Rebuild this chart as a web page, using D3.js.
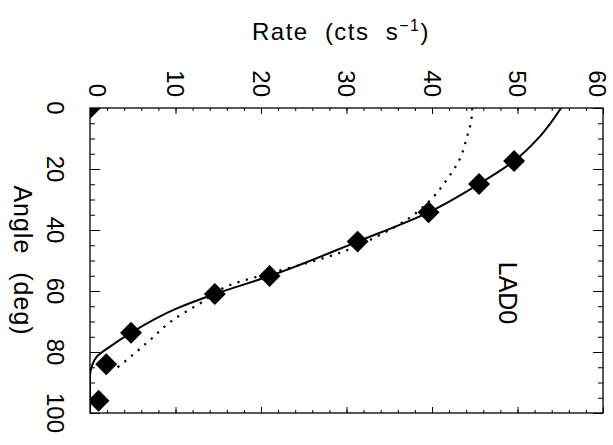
<!DOCTYPE html>
<html>
<head>
<meta charset="utf-8">
<script src="https://cdn.jsdelivr.net/npm/d3@7"></script>
<style>
  html, body { margin: 0; padding: 0; background: #fff; }
  svg text { font-family: "Liberation Sans", Arial, Helvetica, sans-serif; fill: #000; }
</style>
</head>
<body>
<svg id="chart" width="613" height="445"></svg>
<script>
// Measured count rates versus off-axis angle (LAD0)
const pointAngle = [0, 17.4, 24.9, 34.2, 43.8, 55.1, 61.0, 73.7, 84.0, 96.0];
const pointRate  = [0, 49.6, 45.5, 39.6, 31.3, 21.0, 14.6, 4.8, 1.9, 1.0];

// Fitted response (solid)
const fitAngle = [0, 9.4, 17.4, 24.9, 34.2, 43.8, 55.1, 61.0, 65.8, 73.7, 78.3, 81.5, 84.8, 88, 100];
const fitRate  = [55.1, 52.6, 49.6, 45.5, 39.6, 31.3, 21.0, 14.6, 10.1, 4.8, 2.3, 0.8, 0.2, 0, 0];

// Reference response (dotted)
const refAngle = [0, 4, 9.4, 17, 23.6, 30.2, 36.7, 42.2, 47.1, 50.9, 54.2, 57.5, 64, 69.5, 76.1, 82.6, 85.3];
const refRate  = [44.7, 44.6, 44.1, 43.2, 41.7, 39.8, 37.0, 33.5, 29.6, 25.3, 21.0, 16.9, 12.9, 9.7, 7.0, 4.3, 3.1];

// Axis ticks
const rateMajor  = [0, 10, 20, 30, 40, 50, 60];
const rateMinor  = d3.range(0, 60.001, 2);
const angleMajor = [0, 20, 40, 60, 80, 100];
const angleMinor = d3.range(0, 100.001, 5);

const svg = d3.select("#chart");
const frameL = 90, frameR = 603, frameT = 108, frameB = 413;

const x = d3.scaleLinear().domain([0, 60]).range([frameL, frameR]);
const y = d3.scaleLinear().domain([0, 100]).range([frameT, frameB]);

// Inward-pointing ticks on all four sides
function ticks(axisFn, vals, size, transform) {
  svg.append("g")
    .attr("transform", transform)
    .call(axisFn.tickValues(vals).tickSizeInner(-size).tickSizeOuter(0).tickFormat(""))
    .call(g => g.select(".domain").remove())
    .call(g => g.selectAll("line").attr("stroke", "#000").attr("stroke-width", 1));
}
ticks(d3.axisTop(x), rateMinor, 3, `translate(0,${frameT})`);
ticks(d3.axisTop(x), rateMajor, 6, `translate(0,${frameT})`);
ticks(d3.axisBottom(x), rateMinor, 3, `translate(0,${frameB})`);
ticks(d3.axisBottom(x), rateMajor, 6, `translate(0,${frameB})`);
ticks(d3.axisLeft(y), angleMinor, 5, `translate(${frameL},0)`);
ticks(d3.axisLeft(y), angleMajor, 10, `translate(${frameL},0)`);
ticks(d3.axisRight(y), angleMinor, 5, `translate(${frameR},0)`);
ticks(d3.axisRight(y), angleMajor, 10, `translate(${frameR},0)`);

// Frame
svg.append("rect")
  .attr("x", frameL).attr("y", frameT)
  .attr("width", frameR - frameL).attr("height", frameB - frameT)
  .attr("fill", "none").attr("stroke", "#000").attr("stroke-width", 1.3);

// Tick labels (rotated, reading downward); the end labels sit slightly inside the frame
const rateLabelNudge = d => d === 0 ? 7 : d === 60 ? -6 : 0;
svg.append("g").selectAll("text").data(rateMajor).join("text")
  .attr("transform", d => `translate(${x(d) + rateLabelNudge(d)},97) rotate(90)`)
  .attr("text-anchor", "end").attr("dy", "0.35em")
  .attr("font-size", 24)
  .text(d => d);

svg.append("g").selectAll("text").data(angleMajor).join("text")
  .attr("transform", d => `translate(55,${y(d)}) rotate(90)`)
  .attr("text-anchor", "middle").attr("dy", "0.35em")
  .attr("font-size", 24)
  .text(d => d);

// Axis titles
const title = svg.append("text")
  .attr("x", 341).attr("y", 40)
  .attr("text-anchor", "middle")
  .attr("font-size", 24)
  .attr("letter-spacing", 1.5)
  .attr("word-spacing", 8);
title.append("tspan").text("Rate (cts s");
title.append("tspan").attr("font-size", 16).attr("dy", -9).text("\u22121");
title.append("tspan").attr("dy", 9).text(")");

svg.append("text")
  .attr("transform", `translate(23,${(frameT + frameB) / 2}) rotate(90)`)
  .attr("text-anchor", "middle").attr("dy", "0.35em")
  .attr("font-size", 25)
  .attr("letter-spacing", 1)
  .attr("word-spacing", 10)
  .text("Angle (deg)");

svg.append("text")
  .attr("transform", "translate(508,293) rotate(90)")
  .attr("text-anchor", "middle").attr("dy", "0.35em")
  .attr("font-size", 25)
  .text("LAD0");

// Plot contents, clipped to the frame
svg.append("clipPath").attr("id", "plot-clip")
  .append("rect").attr("x", frameL).attr("y", frameT)
  .attr("width", frameR - frameL).attr("height", frameB - frameT);
const plot = svg.append("g").attr("clip-path", "url(#plot-clip)");

const line = d3.line()
  .x(d => x(d[1]))
  .y(d => y(d[0]))
  .curve(d3.curveMonotoneY);

plot.append("path")
  .datum(d3.zip(fitAngle, fitRate))
  .attr("d", line)
  .attr("fill", "none").attr("stroke", "#000").attr("stroke-width", 2);

plot.append("path")
  .datum(d3.zip(refAngle, refRate))
  .attr("d", line)
  .attr("fill", "none").attr("stroke", "#000").attr("stroke-width", 2.2)
  .attr("stroke-dasharray", "2.2 6.5");

const diamond = d3.symbol().type(d3.symbolSquare).size(240);
plot.append("g").selectAll("path").data(d3.zip(pointAngle, pointRate)).join("path")
  .attr("transform", d => `translate(${x(d[1])},${y(d[0])}) rotate(45)`)
  .attr("d", diamond)
  .attr("fill", "#000");
</script>
</body>
</html>
